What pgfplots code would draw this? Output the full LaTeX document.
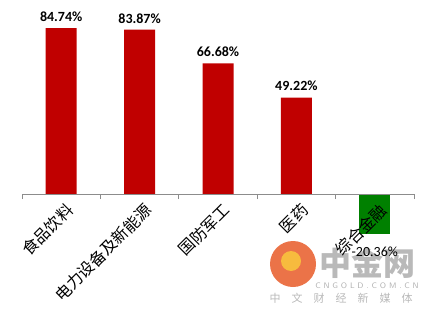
\documentclass[border=0pt]{standalone}
\usepackage{pgfplots}
\pgfplotsset{compat=1.18}
\usepackage{fontspec}
\setmainfont{Carlito}
\newfontfamily\cjk{Noto Sans CJK SC}
\definecolor{barred}{HTML}{C00000}
\definecolor{bargreen}{HTML}{008000}
\definecolor{axgray}{HTML}{8C8C8C}
\begin{document}
\begin{tikzpicture}[x=1pt,y=1pt]
\useasboundingbox (0,0) rectangle (427,316);
% watermark
\fill[color={rgb,255:red,232;green,90;blue,40}, opacity=0.85] (293,52) circle (23);
\fill[color={rgb,255:red,250;green,200;blue,60}, opacity=0.85] (291,55) circle (10);
\node[text=gray!55, font=\cjk\bfseries\fontsize{32}{32}\selectfont] at (367,53) {中金网};
\node[text=gray!60, font=\sffamily\fontsize{8}{8}\selectfont] at (367,30) {C N G O L D . C O M . C N};
\node[text=gray!55, font=\cjk\fontsize{11}{11}\selectfont] at (341,18) {中\quad 文\quad 财\quad 经\quad 新\quad 媒\quad 体};
\begin{axis}[at={(22pt,63.2pt)}, anchor=south west, scale only axis,
  width=392pt, height=235.1pt,
  xmin=-0.5, xmax=4.5, ymin=-30, ymax=90, clip=false,
  axis on top,
  axis x line=middle, axis y line=none,
  x axis line style={-, draw=axgray, line width=0.8pt},
  xtick={0,1,2,3,4},
  xticklabels={食品饮料,电力设备及新能源,国防军工,医药,综合金融},
  x tick label style={font=\cjk\fontsize{16}{16}\selectfont, rotate=45, anchor=north east, inner sep=0pt, yshift=-8pt, xshift=-3pt},
  major tick length=0pt,
  minor xtick={-0.5,0.5,1.5,2.5,3.5,4.5},
  minor x tick style={draw=axgray, line width=0.8pt},
  minor tick length=5pt, xtick align=outside,
  ybar, bar width=31pt, bar shift=0pt,
  /pgf/number format/assume math mode=true,
]
\addplot[fill=barred, draw=none,
  nodes near coords={\pgfmathprintnumber[fixed,precision=2,fixed zerofill,assume math mode=true]{\pgfplotspointmeta}\%},
  every node near coord/.append style={font=\bfseries\fontsize{14}{14}\selectfont, text=black, yshift=3pt}]
  coordinates {(0,84.74) (1,83.87) (2,66.68) (3,49.22)};
\addplot[fill=bargreen, draw=none,
  nodes near coords={-20.36\%},
  every node near coord/.append style={font=\fontsize{14}{14}\selectfont, text=black, yshift=-9pt}]
  coordinates {(4,-20.36)};
\end{axis}
\end{tikzpicture}
\end{document}
